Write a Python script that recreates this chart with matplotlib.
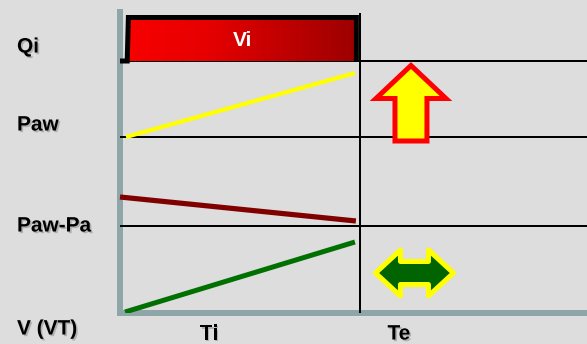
import numpy as np
import matplotlib
matplotlib.use("Agg")
import matplotlib.pyplot as plt
import matplotlib.patheffects as pe
from matplotlib.colors import LinearSegmentedColormap
from matplotlib.patches import Polygon, Rectangle
from matplotlib.transforms import Affine2D, ScaledTranslation

# ---- data -------------------------------------------------------------
row_labels = ["Qi", "Paw", "Paw-Pa", "V (VT)"]
phase_labels = ["Ti", "Te"]
ti_end = 1.0                       # end of inspiration (time units)
t_max = 1.946                      # right end of the time axis

# square inspiratory flow (Vi)
qi_start, qi_end = 0.035, 0.985
qi_level = 43.5

# airway pressure ramps up during inspiration
paw_t = [0.025, 0.979]
paw_v = [0.0, 64.0]

# resistive pressure (Paw - Pa) decreases slightly
res_t = [0.0, 0.983]
res_v = [29.0, 5.0]

# volume rises linearly to tidal volume
vol_t = [0.021, 0.979]
vol_v = [1.0, 71.0]

# baseline of each trace (stacked rows, bottom to top)
base_qi, base_paw, base_res, base_vol = 252.0, 176.0, 87.0, 0.0
y_top = 304.0

# ---- figure -----------------------------------------------------------
W, H, DPI = 587, 344, 100
bg = "#dddddd"
fig = plt.figure(figsize=(W / DPI, H / DPI), dpi=DPI, facecolor=bg)
ax = fig.add_axes([120 / W, (H - 313) / H, (W - 120) / W, (313 - 9) / H])
ax.set_xlim(0, t_max)
ax.set_ylim(0, y_top)
ax.axis("off")

axis_grey = "#8ea6a7"
px_to_pt = 72 / DPI

# grey axes
ax.plot([0, 0], [-3, y_top], color=axis_grey, lw=6 * px_to_pt,
        solid_capstyle="butt", zorder=1, clip_on=False)
ax.plot([-3 / 240, t_max], [0, 0], color=axis_grey, lw=6 * px_to_pt,
        solid_capstyle="butt", zorder=1, clip_on=False)

# baselines of the rows
for b in (base_qi, base_paw, base_res):
    ax.plot([0, t_max], [b, b], color="black", lw=2 * px_to_pt,
            solid_capstyle="butt", zorder=2, clip_on=False)
# end of inspiration
ax.plot([ti_end, ti_end], [0, y_top - 4], color="black", lw=2 * px_to_pt,
        solid_capstyle="butt", zorder=2, clip_on=False)

# flow block with horizontal gradient
cmap = LinearSegmentedColormap.from_list(
    "flow", [(0.0, "#f80000"), (0.35, "#e60000"), (1.0, "#9c0000")])
grad = np.linspace(0, 1, 256).reshape(1, -1)
im = ax.imshow(grad, cmap=cmap, aspect="auto", zorder=3,
               extent=[qi_start, qi_end, base_qi, base_qi + qi_level],
               origin="lower")
clip = Rectangle((qi_start, base_qi), qi_end - qi_start, qi_level,
                 transform=ax.transData, visible=False)
ax.add_patch(clip)
im.set_clip_path(clip)
ax.plot([0, qi_start - 0.005, qi_start, qi_end, qi_end],
        [base_qi, base_qi, base_qi + qi_level, base_qi + qi_level, base_qi],
        color="black", lw=5 * px_to_pt, solid_joinstyle="miter",
        solid_capstyle="butt", zorder=4, clip_on=False)
ax.text(0.5125, base_qi + qi_level * 0.48, "Vi",
        color="white", fontsize=15, fontweight="bold",
        family="Liberation Sans", ha="center", va="center", zorder=5)

# traces
ax.plot(paw_t, [base_paw + v for v in paw_v], color="#ffff00",
        lw=4.2 * px_to_pt, solid_capstyle="butt", zorder=3)
ax.plot(res_t, [base_res + v for v in res_v], color="#800000",
        lw=5.2 * px_to_pt, solid_capstyle="butt", zorder=3, clip_on=False)
ax.plot(vol_t, [base_vol + v for v in vol_v], color="#007000",
        lw=5 * px_to_pt, solid_capstyle="butt", zorder=3)


def arrow_at(x, y, verts, face, edge, join):
    """Block arrow given in pixel offsets, anchored at a data point."""
    tr = Affine2D().scale(DPI / 100) + ScaledTranslation(x, y, ax.transData)
    poly = Polygon(verts, closed=True, facecolor=face, edgecolor=edge,
                   lw=5 * px_to_pt, joinstyle=join, transform=tr,
                   zorder=6, clip_on=False)
    ax.add_patch(poly)


# upward arrow: pressure rises
up = [(0, 0), (35, -33), (16, -33), (16, -75.5), (-16, -75.5),
      (-16, -33), (-35, -33)]
arrow_at(1.2125, 247.5, up, "#ffff00", "#ff0000", "miter")

# double arrow: volume unchanged
dbl = [(-39, 0), (-14, 23), (-14, 11.5), (14, 11.5), (14, 23), (39, 0),
       (14, -23), (14, -11.5), (-14, -11.5), (-14, -23)]
arrow_at(1.227, 40.0, dbl, "#006400", "#ffff00", "round")

# labels
shadow = [pe.SimplePatchShadow(offset=(1.2, -1.2), shadow_rgbFace="#7a7a7a",
                               alpha=0.45), pe.Normal()]
label_y = [47, 125, 226, 329]
for lab, yp in zip(row_labels, label_y):
    fig.text(17 / W, 1 - yp / H, lab, fontsize=15, fontweight="bold",
             family="Liberation Sans", ha="left", va="center",
             path_effects=shadow)
for lab, xp in zip(phase_labels, [209, 399]):
    fig.text(xp / W, 1 - 334 / H, lab, fontsize=15, fontweight="bold",
             family="Liberation Sans", ha="center", va="center",
             path_effects=shadow)

fig.savefig("out.png", dpi=DPI, facecolor=bg)
